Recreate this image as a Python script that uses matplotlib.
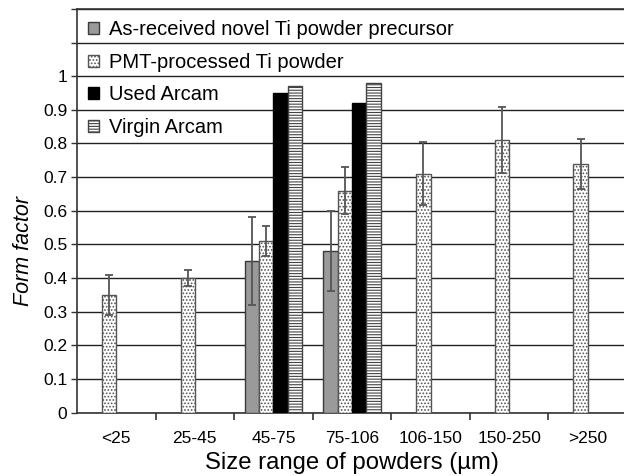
import numpy as np
import matplotlib
matplotlib.use("Agg")
import matplotlib.pyplot as plt

plt.rcParams['font.family'] = ['Liberation Sans', 'DejaVu Sans']
plt.rcParams['hatch.linewidth'] = 0.8

categories = ['<25', '25-45', '45-75', '75-106', '106-150', '150-250', '>250']
series = ['As-received novel Ti powder precursor', 'PMT-processed Ti powder',
          'Used Arcam', 'Virgin Arcam']

# nan = no bar in that size range
as_received = [np.nan, np.nan, 0.45, 0.48, np.nan, np.nan, np.nan]
as_received_err = [0, 0, 0.13, 0.12, 0, 0, 0]
pmt = [0.35, 0.40, 0.51, 0.66, 0.71, 0.81, 0.74]
pmt_err = [0.06, 0.025, 0.046, 0.07, 0.093, 0.098, 0.074]
used_arcam = [np.nan, np.nan, 0.95, 0.92, np.nan, np.nan, np.nan]
virgin_arcam = [np.nan, np.nan, 0.97, 0.98, np.nan, np.nan, np.nan]

fig = plt.figure(figsize=(6.24, 4.76), dpi=100)
ax = fig.add_axes([0.1234, 0.1334, 0.8814, 0.8477])

x = np.arange(len(categories))
w = 0.182
styles = [
    dict(color='#9a9a9a', edgecolor='#3a3a3a', hatch=None),
    dict(color='white', edgecolor='#555555', hatch='.....'),
    dict(color='black', edgecolor='black', hatch=None),
    dict(color='white', edgecolor='#444444', hatch='------'),
]
values = [as_received, pmt, used_arcam, virgin_arcam]
errors = [as_received_err, pmt_err, None, None]

for i, (vals, err, st, lab) in enumerate(zip(values, errors, styles, series)):
    pos = x + (i - 1.5) * w
    ax.bar(pos, vals, w, color=st['color'], edgecolor=st['edgecolor'],
           hatch=st['hatch'], linewidth=1.0, label=lab, zorder=3)
    if err is not None:
        v = np.array(vals, dtype=float)
        m = ~np.isnan(v)
        ax.errorbar(pos[m], v[m], yerr=np.array(err)[m], fmt='none',
                    ecolor='#555555', elinewidth=1.3, capsize=3, capthick=1.3,
                    zorder=4)

ax.set_xlim(-0.5, len(categories) - 0.5)
ax.set_ylim(0, 1.2)
yt = np.round(np.arange(0, 1.21, 0.1), 1)
ax.set_yticks(yt)
ax.set_yticklabels([f'{v:g}' if v <= 1 else '' for v in yt], fontsize=12.5)
ax.yaxis.grid(True, color='#222222', linewidth=1.0, zorder=0)
ax.set_axisbelow(True)

ax.set_xticks(x)
ax.set_xticklabels(categories, fontsize=12.5)
ax.set_xticks(np.arange(0.5, len(categories) - 0.5, 1), minor=True)
ax.tick_params(axis='x', which='major', length=0, pad=13)
ax.tick_params(axis='x', which='minor', length=5, width=1.2, color='#333333')
ax.tick_params(axis='y', length=4, width=1.0, color='#333333', pad=3)

for s in ax.spines.values():
    s.set_color('#333333')
    s.set_linewidth(1.2)

ax.set_ylabel('Form factor', fontsize=15.5, style='italic')
ax.yaxis.set_label_coords(-0.079, 0.40)
ax.set_xlabel('Size range of powders (µm)', fontsize=17.2, labelpad=4.5)

leg = ax.legend(loc='upper left', bbox_to_anchor=(0.0, 1.0), frameon=False,
                fontsize=14.5, handlelength=0.55, handleheight=0.55,
                handletextpad=0.5, labelspacing=0.68, borderaxespad=0.15,
                borderpad=0.4)

fig.savefig('out.png', dpi=100)
